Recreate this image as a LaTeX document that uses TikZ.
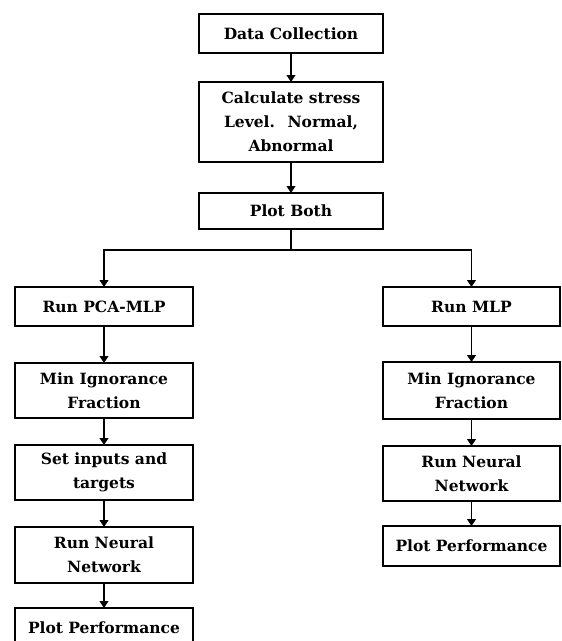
\documentclass[tikz,border=0pt]{standalone}
\usepackage{fontspec}
\setmainfont{DejaVu Serif}
\usetikzlibrary{arrows.meta}

\tikzset{
	box/.style={draw,line width=1.2pt,align=center,inner sep=0,outer sep=0,font=\fontsize{15.5}{24}\selectfont\bfseries},
	arr/.style={line width=1.2pt,-{Triangle[width=9pt,length=7pt]}}
}

\begin{document}
\begin{tikzpicture}[x=1pt,y=-1pt]
	\useasboundingbox (0,0) rectangle (562,641);
	\node[box,minimum width=184,minimum height=39] (1) at (291,33.5) {Data Collection};
	\node[box,minimum width=184,minimum height=80] (2) at (291,122) {Calculate stress\\Level.~ Normal,\\Abnormal};
	\node[box,minimum width=184,minimum height=36] (3) at (291,211) {Plot Both};
	\coordinate (s) at (291,250);
	\node[box,minimum width=178,minimum height=39] (a1) at (104,306.5) {Run PCA-MLP};
	\node[box,minimum width=178,minimum height=55] (a2) at (104,390.5) {Min Ignorance\\Fraction};
	\node[box,minimum width=178,minimum height=55] (a3) at (104,472.5) {Set inputs and\\targets};
	\node[box,minimum width=178,minimum height=56] (a4) at (104,555) {Run Neural\\Network};
	\node[box,minimum width=178,minimum height=40] (a5) at (104,628) {Plot Performance};
	\node[box,minimum width=177,minimum height=39] (b1) at (471.5,306.5) {Run MLP};
	\node[box,minimum width=177,minimum height=57] (b2) at (471.5,390.5) {Min Ignorance\\Fraction};
	\node[box,minimum width=177,minimum height=55] (b3) at (471.5,473.5) {Run Neural\\Network};
	\node[box,minimum width=177,minimum height=40] (b4) at (471.5,546) {Plot Performance};
	\draw[arr] (1) -- (2);
	\draw[arr] (2) -- (3);
	\draw[line width=1.2pt] (3) -- (s);
	\draw[arr] (s) -| (a1);
	\draw[arr] (s) -| (b1);
	\draw[arr] (a1) -- (a2);
	\draw[arr] (a2) -- (a3);
	\draw[arr] (a3) -- (a4);
	\draw[arr] (a4) -- (a5);
	\draw[arr] (b1) -- (b2);
	\draw[arr] (b2) -- (b3);
	\draw[arr] (b3) -- (b4);
\end{tikzpicture}
\end{document}
